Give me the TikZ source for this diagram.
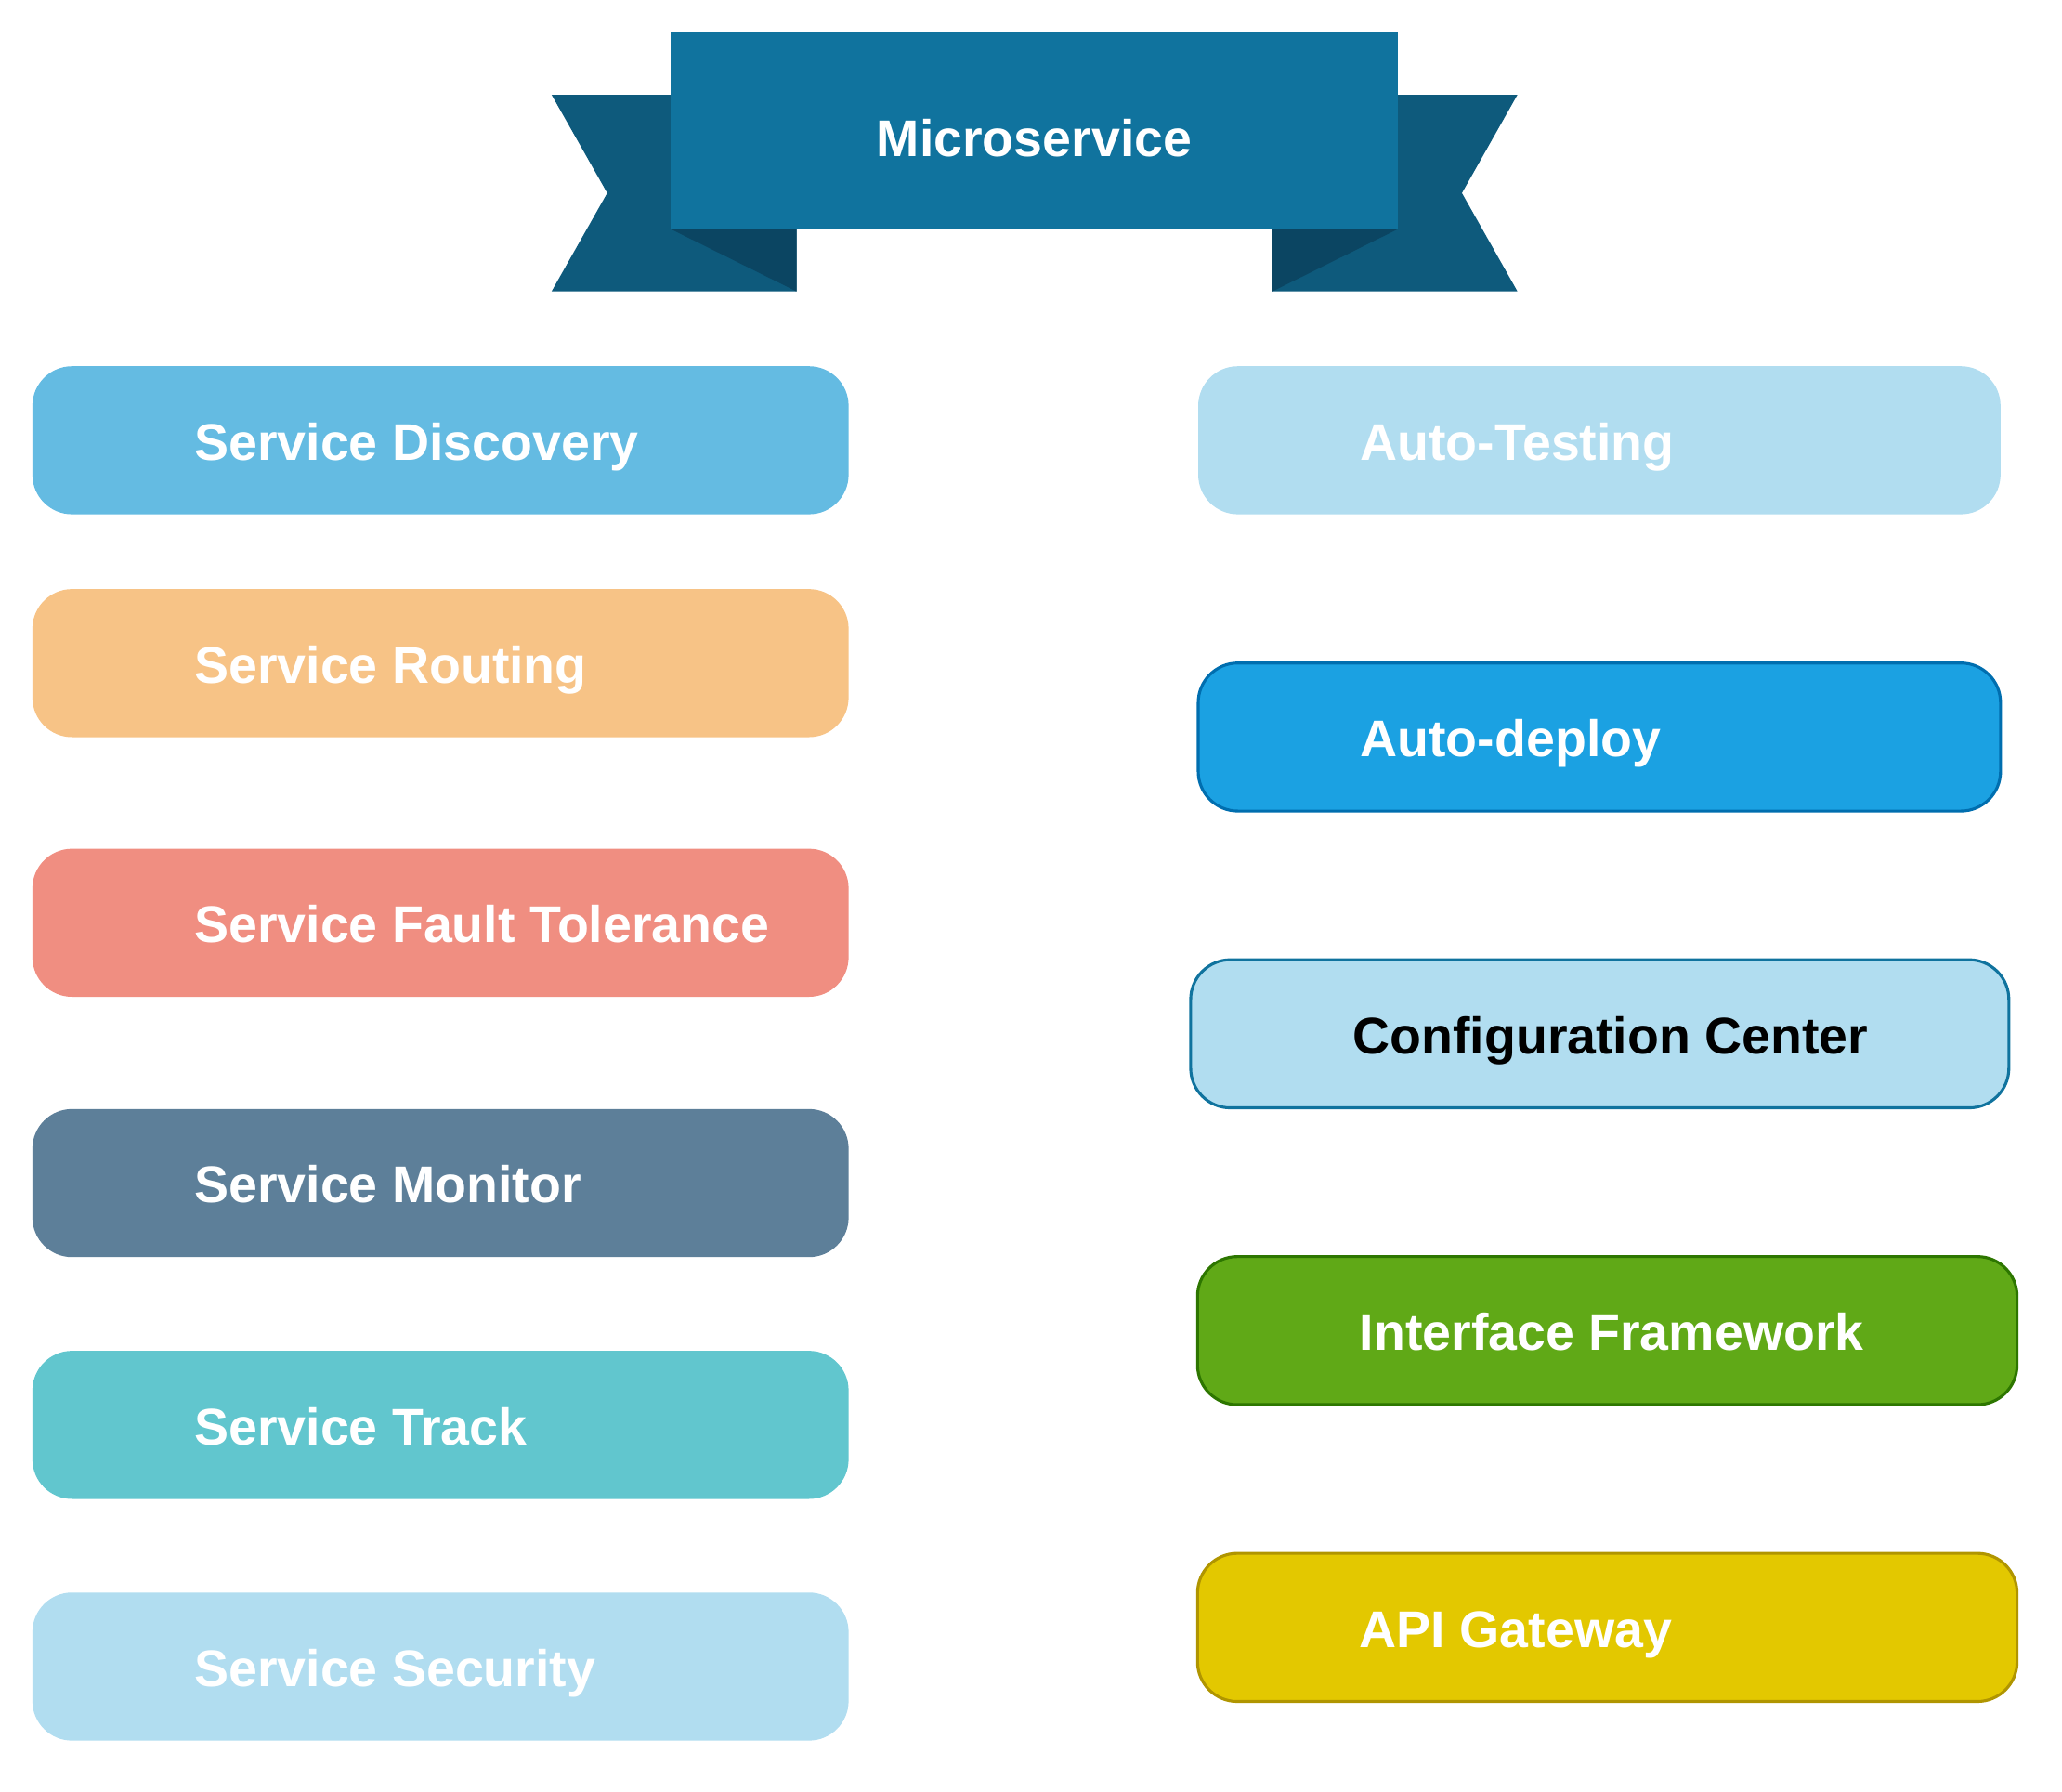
\documentclass[tikz,border=0pt]{standalone}
\usepackage{fontspec}
\setmainfont{Liberation Sans}

\definecolor{ribbon}{HTML}{10739E}
\definecolor{ribbontail}{HTML}{0E5A7C}
\definecolor{ribbonfold}{HTML}{0B4562}
\definecolor{discovery}{HTML}{64BBE2}
\definecolor{routing}{HTML}{F7C386}
\definecolor{fault}{HTML}{F08E81}
\definecolor{monitor}{HTML}{5D7F99}
\definecolor{track}{HTML}{61C6CE}
\definecolor{pale}{HTML}{B1DDF0}
\definecolor{paleline}{HTML}{10739E}
\definecolor{deploy}{HTML}{1BA1E2}
\definecolor{deployline}{HTML}{006EAF}
\definecolor{frame}{HTML}{60A917}
\definecolor{frameline}{HTML}{2D7600}
\definecolor{gateway}{HTML}{E3C800}
\definecolor{gatewayline}{HTML}{B09500}

\tikzset{
  item/.style={rounded corners=30pt, minimum height=112pt, inner sep=0pt, line width=2.2pt},
  itemtext/.style={anchor=base west, inner sep=0pt, text=white, font=\fontsize{39}{47}\selectfont\bfseries}
}

\begin{document}
\begin{tikzpicture}[x=1pt,y=-1pt]
\useasboundingbox (0,0) rectangle (1560,1355);

% Banner
\fill[ribbontail] (417.3,71.7) -- (602.6,71.7) -- (602.6,220.4) -- (417.3,220.4) -- (459.4,146) -- cycle;
\fill[ribbontail] (1148,71.7) -- (962.7,71.7) -- (962.7,220.4) -- (1148,220.4) -- (1106,146) -- cycle;
\node[fill=ribbon, minimum width=550.3pt, minimum height=149pt, inner sep=0pt] (ribbon) at (782.5,98.4) {};
\fill[ribbonfold] (ribbon.south west) -- (602.6,172.9) -- (602.6,220.4) -- cycle;
\fill[ribbonfold] (ribbon.south east) -- (962.7,172.9) -- (962.7,220.4) -- cycle;
\node[itemtext, anchor=base] (title) at ([yshift=-19.9pt]ribbon.center) {Microservice};

% Left column
\foreach \id/\cy/\col/\txt in {disc/333/discovery/Service Discovery,
                               rout/501.6/routing/Service Routing,
                               fault/698/fault/Service Fault Tolerance,
                               mon/894.9/monitor/Service Monitor,
                               track/1077.8/track/Service Track,
                               sec/1260.6/pale/Service Security} {
  \node[item, fill=\col, minimum width=617.5pt] (\id) at (333.25,\cy) {};
  \node[itemtext] (\id-text) at ([xshift=123.5pt,yshift=-15pt]\id.west) {\txt};
}

% Right column
\foreach \id/\cx/\cy/\w/\fc/\dc/\tc/\txt in {test/1210/333/607/pale/none/white/Auto-Testing,
                                            depl/1210/557.5/607/deploy/deployline/white/Auto-deploy,
                                            conf/1210.3/782/619/pale/paleline/black/Configuration Center,
                                            intf/1216/1006.5/620/frame/frameline/white/Interface Framework,
                                            api/1216/1231/620/gateway/gatewayline/white/API Gateway} {
  \node[item, fill=\fc, draw=\dc, minimum width=\w pt] (\id) at (\cx,\cy) {};
  \node[itemtext, text=\tc] (\id-text) at ([xshift=123.5pt,yshift=-15pt]\id.west) {\txt};
}
\end{tikzpicture}
\end{document}
